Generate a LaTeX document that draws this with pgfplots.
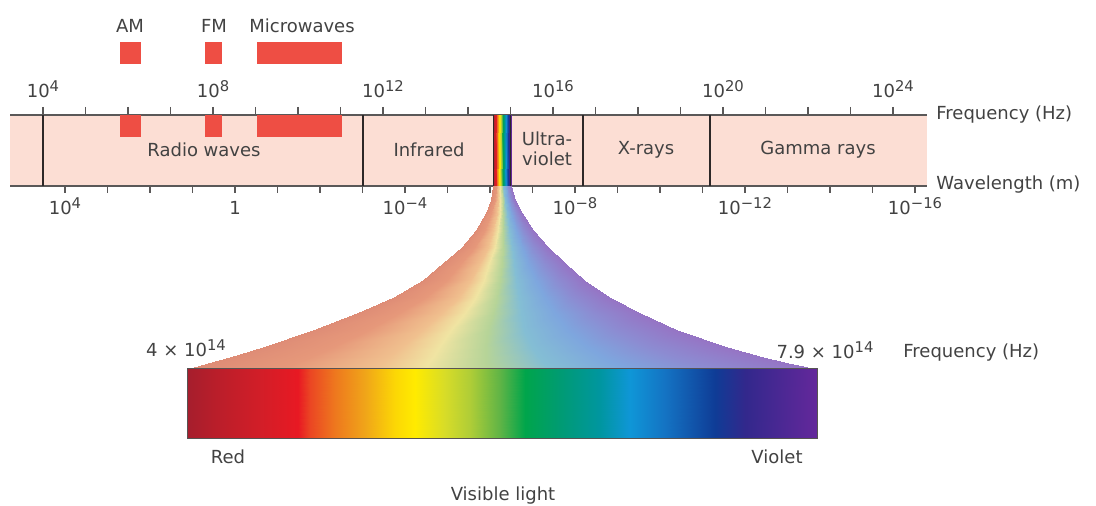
\documentclass[border=0pt]{standalone}
\usepackage{fontspec}
\setmainfont{DejaVu Sans}
\usepackage{pgfplots}
\pgfplotsset{compat=1.18}

\definecolor{bandpink}{RGB}{252,222,212}
\definecolor{txt}{RGB}{66,66,66}
\definecolor{divider}{RGB}{45,40,40}
\definecolor{edge}{RGB}{90,88,88}
\definecolor{radiored}{RGB}{238,78,68}

\newcommand{\lbl}{\fontsize{9}{11}\selectfont}
\newcommand{\sups}[1]{\raisebox{3.1pt}{\fontsize{7.4}{9}\selectfont #1}}

% spectrum of the visible bar (position = (x-187)/10 cm)
\pgfplotsset{
  colormap={vismap}{rgb255(0cm)=(165,30,45); rgb255(2.8cm)=(185,30,42);
    rgb255(7.3cm)=(210,30,40); rgb255(11.1cm)=(232,25,35); rgb255(12.3cm)=(235,70,35);
    rgb255(14.8cm)=(238,120,30); rgb255(17.8cm)=(240,165,25); rgb255(20.8cm)=(252,215,5);
    rgb255(22.8cm)=(255,235,0); rgb255(25.8cm)=(215,220,40); rgb255(28.3cm)=(175,205,55);
    rgb255(31.3cm)=(95,180,70); rgb255(33.8cm)=(0,165,75); rgb255(37.3cm)=(0,155,115);
    rgb255(41.3cm)=(0,150,160); rgb255(44.3cm)=(15,150,215); rgb255(47.8cm)=(20,115,195);
    rgb255(52.8cm)=(15,60,150); rgb255(55.8cm)=(50,40,140); rgb255(63cm)=(100,40,155)},
  colormap={fanmap}{rgb255(0cm)=(222,140,118); rgb255(9.45cm)=(230,152,122);
    rgb255(18.9cm)=(240,192,142); rgb255(23.94cm)=(240,228,162); rgb255(30.24cm)=(182,212,152);
    rgb255(36.54cm)=(132,190,212); rgb255(44.1cm)=(126,166,222); rgb255(52.29cm)=(140,140,210);
    rgb255(63cm)=(150,116,196)},
}
\tikzset{lab/.style={font=\lbl, text=txt, inner sep=0pt}}

\begin{document}
\begin{tikzpicture}
% frequency scale on top of the band (x = log10 of frequency)
\begin{axis}[
  at={(5pt,160pt)}, anchor=south west, scale only axis,
  width=458.5pt, height=35.5pt,
  xmin=3.2235, xmax=24.8, ymin=0, ymax=1,
  axis background/.style={fill=bandpink},
  separate axis lines,
  x axis line style={draw=edge, line width=0.6pt},
  y axis line style={draw=none},
  ytick=\empty,
  xtick pos=right, xticklabel pos=right,
  tick align=outside,
  major tick length=4pt, minor tick length=4pt,
  tick style={draw=edge, line width=0.6pt},
  xtick={4,8,12,16,20,24},
  minor xtick={5,6,7,9,10,11,13,14,15,17,18,19,21,22,23},
  xticklabels={10\sups{4},10\sups{8},10\sups{12},10\sups{16},10\sups{20},10\sups{24}},
  xticklabel style={font=\lbl, text=txt, anchor=base, yshift=4.5pt},
]
\addplot[draw=none] coordinates {(4,0.5)};
\end{axis}

% wavelength scale under the band (x = log10 of wavelength)
\begin{axis}[
  at={(5pt,160pt)}, anchor=south west, scale only axis,
  width=458.5pt, height=35.5pt,
  x dir=reverse, xmin=-16.282, xmax=5.294, ymin=0, ymax=1,
  axis line style={draw=none},
  ytick=\empty,
  xtick pos=left, xticklabel pos=left,
  tick align=outside,
  major tick length=3.5pt, minor tick length=3.5pt,
  tick style={draw=edge, line width=0.6pt},
  xtick={-16,-12,-8,-4,0,4},
  minor xtick={-15,-14,-13,-11,-10,-9,-7,-6,-5,-3,-2,-1,1,2,3},
  xticklabels={10\sups{−16},10\sups{−12},10\sups{−8},10\sups{−4},1,10\sups{4}},
  xticklabel style={font=\lbl, text=txt, anchor=base, yshift=-11pt},
]
\addplot[draw=none] coordinates {(0,0.5)};
\end{axis}

% everything else, in picture pixels
\begin{axis}[
  at={(0pt,0pt)}, anchor=south west, scale only axis,
  width=548pt, height=253pt,
  xmin=0, xmax=1096, ymin=0, ymax=506, y dir=reverse,
  hide axis, clip=false,
  point meta min=187, point meta max=817,
]
\addplot[draw=none] coordinates {(0,0) (1096,506)};

% AM / FM / Microwaves bands
\addplot[fill=radiored, draw=none] coordinates {(120,42) (141,42) (141,64) (120,64)} -- cycle;
\addplot[fill=radiored, draw=none] coordinates {(205,42) (222,42) (222,64) (205,64)} -- cycle;
\addplot[fill=radiored, draw=none] coordinates {(257,42) (342,42) (342,64) (257,64)} -- cycle;
\addplot[fill=radiored, draw=none] coordinates {(120,115) (141,115) (141,137) (120,137)} -- cycle;
\addplot[fill=radiored, draw=none] coordinates {(205,115) (222,115) (222,137) (205,137)} -- cycle;
\addplot[fill=radiored, draw=none] coordinates {(257,115) (342,115) (342,137) (257,137)} -- cycle;

% region dividers
\addplot[divider, line width=1pt] coordinates {(43,115) (43,186)};
\addplot[divider, line width=1pt] coordinates {(363,115) (363,186)};
\addplot[divider, line width=1pt] coordinates {(583,115) (583,186)};
\addplot[divider, line width=1pt] coordinates {(710,115) (710,186)};

% visible strip in the band
\addplot[surf, shader=interp, colormap name=vismap, mesh/rows=2, mesh/cols=10,
  point meta=explicit] table[x=x, y=y, meta=c] {
x y c
493 115 187
495 115 257
497 115 327
499 115 397
501 115 467
503 115 537
505 115 607
507 115 677
509 115 747
511 115 817
493 186 187
495 186 257
497 186 327
499 186 397
501 186 467
503 186 537
505 186 607
507 186 677
509 186 747
511 186 817
};
\addplot[divider, line width=0.7pt] coordinates {(493.5,115) (493.5,186)};
\addplot[divider, line width=0.7pt] coordinates {(510.5,115) (510.5,186)};

% fan opening from the strip down to the bar
\addplot[surf, shader=interp, colormap name=fanmap, mesh/rows=14, mesh/cols=9,
  point meta=explicit] table[x=x, y=y, meta=c] {
x y c
493 186 187
495.7 186 281.5
498.4 186 376
499.84 186 426.4
501.64 186 489.4
503.44 186 552.4
505.6 186 628
507.94 186 709.9
511 186 817
491 200 187
494.6 200 281.5
498.2 200 376
500.12 200 426.4
502.52 200 489.4
504.92 200 552.4
507.8 200 628
510.92 200 709.9
515 200 817
486 213 187
491.4 213 281.5
496.8 213 376
499.68 213 426.4
503.28 213 489.4
506.88 213 552.4
511.2 213 628
515.88 213 709.9
522 213 817
476 230 187
484.55 230 281.5
493.1 230 376
497.66 230 426.4
503.36 230 489.4
509.06 230 552.4
515.9 230 628
523.31 230 709.9
533 230 817
462 247 187
474.9 247 281.5
487.8 247 376
494.68 247 426.4
503.28 247 489.4
511.88 247 552.4
522.2 247 628
533.38 247 709.9
548 247 817
443 263 187
461.3 263 281.5
479.6 263 376
489.36 263 426.4
501.56 263 489.4
513.76 263 552.4
528.4 263 628
544.26 263 709.9
565 263 817
423 280 187
447.15 280 281.5
471.3 280 376
484.18 280 426.4
500.28 280 489.4
516.38 280 552.4
535.7 280 628
556.63 280 709.9
584 280 817
394 297 187
426.25 297 281.5
458.5 297 376
475.7 297 426.4
497.2 297 489.4
518.7 297 552.4
544.5 297 628
572.45 297 709.9
609 297 817
357 313 187
399.45 313 281.5
441.9 313 376
464.54 313 426.4
492.84 313 489.4
521.14 313 552.4
555.1 313 628
591.89 313 709.9
640 313 817
313 330 187
367.6 330 281.5
422.2 330 376
451.32 330 426.4
487.72 330 489.4
524.12 330 552.4
567.8 330 628
615.12 330 709.9
677 330 817
263 347 187
332.6 347 281.5
402.2 347 376
439.32 347 426.4
485.72 347 489.4
532.12 347 552.4
587.8 347 628
648.12 347 709.9
727 347 817
230 357 187
309.95 357 281.5
389.9 357 376
432.54 357 426.4
485.84 357 489.4
539.14 357 552.4
603.1 357 628
672.39 357 709.9
763 357 817
208 363 187
295 363 281.5
382 363 376
428.4 363 426.4
486.4 363 489.4
544.4 363 552.4
614 363 628
689.4 363 709.9
788 363 817
187 369 187
281.5 369 281.5
376 369 376
426.4 369 426.4
489.4 369 489.4
552.4 369 552.4
628 369 628
709.9 369 709.9
817 369 817
};

% visible light bar
\addplot[surf, shader=interp, colormap name=vismap, mesh/rows=2, mesh/cols=20,
  point meta=explicit] table[x=x, y=y, meta=c] {
x y c
187 369 187
215 369 215
260 369 260
298 369 298
310 369 310
335 369 335
365 369 365
395 369 395
415 369 415
445 369 445
470 369 470
500 369 500
525 369 525
560 369 560
600 369 600
630 369 630
665 369 665
715 369 715
745 369 745
817 369 817
187 439 187
215 439 215
260 439 260
298 439 298
310 439 310
335 439 335
365 439 365
395 439 395
415 439 415
445 439 445
470 439 470
500 439 500
525 439 525
560 439 560
600 439 600
630 439 630
665 439 665
715 439 715
745 439 745
817 439 817
};
\addplot[draw=divider!80, line width=0.5pt] coordinates {(187,369) (817,369) (817,439) (187,439)} -- cycle;

% labels
\node[lab] at (axis cs:130,26) {AM};
\node[lab] at (axis cs:214,26) {FM};
\node[lab] at (axis cs:302,26) {Microwaves};
\node[lab] at (axis cs:204,150) {Radio waves};
\node[lab] at (axis cs:429,150) {Infrared};
\node[lab, align=center] at (axis cs:547,149) {Ultra-\\[-1pt]violet};
\node[lab] at (axis cs:646,150) {X-rays};
\node[lab] at (axis cs:818,150) {Gamma rays};
\node[lab, anchor=west] at (axis cs:936,115) {Frequency (Hz)};
\node[lab, anchor=west] at (axis cs:936,185) {Wavelength (m)};
\node[lab] at (axis cs:186,348) {4 × 10\sups{14}};
\node[lab] at (axis cs:825,350) {7.9 × 10\sups{14}};
\node[lab, anchor=west] at (axis cs:903,353) {Frequency (Hz)};
\node[lab] at (axis cs:228,457) {Red};
\node[lab] at (axis cs:777,457) {Violet};
\node[lab] at (axis cs:503,496) {Visible light};
\end{axis}
\end{tikzpicture}
\end{document}
